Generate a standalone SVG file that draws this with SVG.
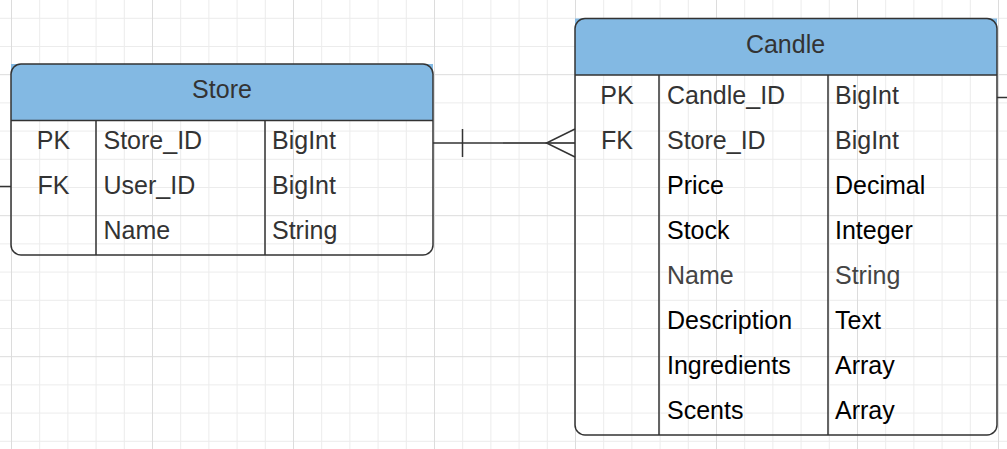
<svg xmlns="http://www.w3.org/2000/svg" width="1007" height="449" viewBox="0 0 1007 449">
<style>
.minor{stroke:#ececec;stroke-width:1;fill:none}
.major{stroke:#dcdcdc;stroke-width:1;fill:none}
.hdr{fill:#83b9e3}
.box{fill:none;stroke:#333;stroke-width:1.5}
.div{stroke:#333;stroke-width:1.5;fill:none}
text{font-family:"Liberation Sans",Arial,sans-serif;font-size:25px}
.g{fill:#333}
.k{fill:#000}
.n{fill:#444}
.c{text-anchor:middle}
.conn{stroke:#333;stroke-width:1.5;fill:none}
.conn2{stroke:#555;stroke-width:2.2;fill:none}
</style>
<rect width="1007" height="449" fill="#fff"/>
<g id="grid">
<path class="minor" d="M39.7 0V449M67.9 0V449M96.1 0V449M124.3 0V449M180.7 0V449M208.9 0V449M237.1 0V449M265.3 0V449M321.7 0V449M349.9 0V449M378.1 0V449M406.3 0V449M462.7 0V449M490.9 0V449M519.1 0V449M547.3 0V449M603.7 0V449M631.9 0V449M660.1 0V449M688.3 0V449M744.7 0V449M772.9 0V449M801.1 0V449M829.3 0V449M885.7 0V449M913.9 0V449M942.1 0V449M970.3 0V449M0 18.3H1007M0 46.5H1007M0 102.9H1007M0 131.1H1007M0 159.3H1007M0 187.5H1007M0 243.9H1007M0 272.1H1007M0 300.3H1007M0 328.5H1007M0 384.9H1007M0 413.1H1007M0 441.3H1007"/>
<path class="major" d="M11.5 0V449M152.5 0V449M293.5 0V449M434.5 0V449M575.5 0V449M716.5 0V449M857.5 0V449M998.5 0V449M0 74.7H1007M0 215.7H1007M0 356.7H1007"/>
</g>
<g id="connectors">
<path class="conn" d="M433 143H503"/>
<path class="conn2" d="M503 143H575"/>
<path class="conn" d="M462.5 129V157"/>
<path class="conn" d="M575 129L546.5 143L575 157"/>
<path class="conn" d="M0 186.5H11"/>
<path class="conn" d="M997 97.5H1007"/>
</g>
<g id="store">
<rect class="hdr" x="11" y="64" width="422" height="56.5"/>
<path class="div" d="M11 120.5H433M96 120.5V255M265 120.5V255"/>
<rect class="box" x="11" y="64" width="422" height="191" rx="10"/>
<text class="g c" x="222" y="97.5">Store</text>
<text class="g c" x="53.5" y="148.5">PK</text>
<text class="g" x="103.5" y="148.5">Store_ID</text>
<text class="g" x="272" y="148.5">BigInt</text>
<text class="g c" x="53.5" y="193.5">FK</text>
<text class="g" x="103.5" y="193.5">User_ID</text>
<text class="g" x="272" y="193.5">BigInt</text>
<text class="g" x="103.5" y="238.5">Name</text>
<text class="g" x="272" y="238.5">String</text>
</g>
<g id="candle">
<rect class="hdr" x="575" y="18.5" width="422" height="56.5"/>
<path class="div" d="M575 75H997M659 75V435M828 75V435"/>
<rect class="box" x="575" y="18.5" width="422" height="416.5" rx="10"/>
<text class="g c" x="785.5" y="52.5">Candle</text>
<text class="g c" x="617" y="103.5">PK</text>
<text class="g" x="667" y="103.5">Candle_ID</text>
<text class="g" x="835" y="103.5">BigInt</text>
<text class="g c" x="617" y="148.5">FK</text>
<text class="g" x="667" y="148.5">Store_ID</text>
<text class="g" x="835" y="148.5">BigInt</text>
<text class="k" x="667" y="193.5">Price</text>
<text class="k" x="835" y="193.5">Decimal</text>
<text class="k" x="667" y="238.5">Stock</text>
<text class="k" x="835" y="238.5">Integer</text>
<text class="n" x="667" y="283.5">Name</text>
<text class="n" x="835" y="283.5">String</text>
<text class="k" x="667" y="328.5">Description</text>
<text class="k" x="835" y="328.5">Text</text>
<text class="k" x="667" y="373.5">Ingredients</text>
<text class="k" x="835" y="373.5">Array</text>
<text class="k" x="667" y="418.5">Scents</text>
<text class="k" x="835" y="418.5">Array</text>
</g>
</svg>
